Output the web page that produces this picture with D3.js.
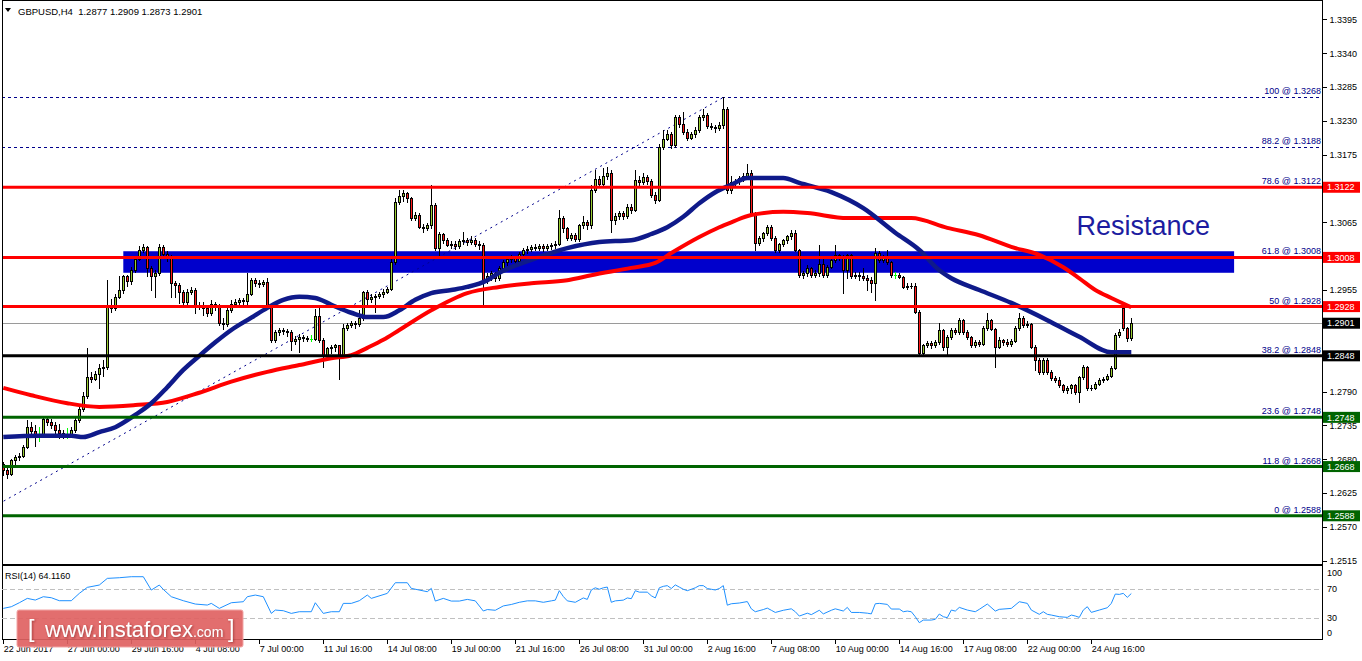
<!DOCTYPE html>
<html>
<head>
<meta charset="utf-8">
<title>GBPUSD H4</title>
<script src="https://cdn.jsdelivr.net/npm/d3@7/dist/d3.min.js"></script>
<style>
  html, body { margin: 0; padding: 0; background: #ffffff; overflow: hidden; }
  svg { display: block; font-family: "Liberation Sans", Arial, sans-serif; }
</style>
</head>
<body>
<svg id="chart" width="1362" height="661"></svg>
<script>
// ================= DATA =================
// Candle prices stored as pips (0.0001) above 1.2500
const PIP_BASE = 1.25;
const opens = [
172,162,156,178,183,185,200,233,226,218, 218,246,240,236,228,222,220,220,228,244,
262,283,314,311,318,328,330,428,425,444, 455,477,469,487,506,520,525,490,478,483,
525,514,508,466,463,452,436,452,455,431, 428,426,418,433,430,401,399,422,433,436,
439,437,449,471,466,465,468,428,374,387, 390,388,386,372,376,379,377,376,376,412,
374,347,360,363,365,350,393,398,401,399, 409,452,441,443,445,448,452,457,500,598,
608,612,604,572,577,558,556,560,593,523, 546,536,528,530,527,535,536,533,537,530,
528,472,478,482,475,490,500,505,508,502, 513,520,522,525,524,527,523,526,528,530,
572,555,540,545,538,560,565,560,618,635, 628,640,645,569,575,580,576,590,585,634,
630,638,632,610,602,688,701,708,690,736, 725,712,702,708,715,737,739,722,720,718,
723,750,618,630,632,637,640,645,580,532, 539,547,558,539,520,530,536,542,548,520,
480,482,490,479,482,498,479,493,504,512, 509,487,512,477,480,477,475,472,466,515,
504,509,500,479,479,476,460,462,461,420, 352,366,369,365,371,390,363,379,390,387,
406,387,379,366,370,368,393,406,392,363, 374,371,368,372,393,409,398,400,363,341,
322,341,322,312,309,300,292,296,300,290, 314,330,295,296,303,309,311,316,328,382,
426,393,377];
const highs = [
176,166,181,186,190,203,244,240,236,232, 250,250,246,240,238,228,230,232,248,266,
290,360,322,324,334,341,471,440,448,477, 480,480,492,510,526,530,527,494,488,530,
528,518,512,470,466,455,456,460,458,436, 436,430,438,436,432,410,426,438,440,442,
442,482,475,474,472,472,474,430,390,394, 394,392,390,380,384,382,380,382,424,425,
377,362,366,368,366,400,402,405,404,422, 454,455,448,448,452,456,460,505,605,618,
618,614,606,582,580,562,564,626,596,550, 548,540,534,534,538,550,540,542,540,534,
532,482,486,484,494,503,508,512,510,516, 524,526,528,530,530,530,530,532,534,585,
575,558,548,548,563,575,568,625,650,640, 654,655,650,580,584,584,594,594,650,640,
645,642,635,614,692,715,715,712,740,740, 745,716,712,720,740,750,742,726,724,728,
769,752,640,636,640,645,660,650,582,542, 550,560,560,542,532,538,544,553,552,522,
486,495,492,488,528,506,496,506,528,514, 512,514,514,484,484,490,480,476,523,518,
512,520,502,484,482,478,466,466,466,422, 368,372,372,374,401,392,382,394,393,409,
408,390,381,373,373,396,417,408,394,378, 376,376,375,396,417,412,404,402,366,344,
344,344,325,316,314,303,299,302,303,316, 333,332,300,306,312,314,319,332,385,392,
431,395,409];
const lows = [
155,150,154,168,178,183,198,222,202,210, 216,236,230,220,215,214,214,218,224,240,
258,280,305,308,296,316,326,420,423,442, 450,462,465,485,504,516,478,455,444,480,
510,502,444,444,434,430,432,448,417,424, 414,412,415,422,398,392,396,420,430,428,
432,430,447,462,460,462,425,370,370,382, 384,380,357,368,355,372,372,372,374,370,
330,344,352,356,311,348,390,395,394,396, 406,432,436,420,442,444,450,455,498,594,
600,598,568,568,555,550,552,556,520,512, 532,526,524,522,524,530,528,530,526,522,
431,466,472,470,472,486,496,500,498,500, 510,515,518,520,520,518,520,522,524,528,
550,536,536,534,535,556,554,555,615,622, 625,636,550,562,570,570,572,580,583,625,
628,628,606,596,600,684,698,686,688,720, 708,698,700,704,712,732,718,716,712,715,
718,612,612,624,628,632,636,578,520,528, 535,544,536,516,516,526,532,538,518,476,
474,478,476,476,478,476,476,490,500,504, 450,474,474,474,472,472,455,452,439,500,
500,498,476,474,474,458,456,458,418,348, 349,362,360,362,368,357,349,376,384,384,
384,376,362,362,364,366,390,390,330,360, 366,364,364,370,390,395,395,360,325,318,
318,318,308,305,298,289,288,288,286,273, 310,293,292,294,300,306,308,314,326,378,
390,372,373];
const closes = [
162,156,178,183,185,200,233,226,218,218, 246,240,236,228,222,220,220,228,244,262,
283,314,311,318,328,330,428,425,444,455, 477,469,487,506,520,525,490,478,483,525,
514,508,466,463,452,436,452,455,431,428, 426,418,433,430,401,399,422,433,436,439,
437,449,471,466,465,468,428,374,387,390, 388,386,372,376,379,377,376,376,412,374,
347,360,363,365,350,393,398,401,399,409, 452,441,443,445,448,452,457,500,598,608,
612,604,572,577,558,556,560,593,523,546, 536,528,530,527,535,536,533,537,530,528,
472,478,482,475,490,500,505,508,502,513, 520,522,525,524,527,523,526,528,530,572,
555,540,545,538,560,565,560,618,635,628, 640,645,569,575,580,576,590,585,634,630,
638,632,610,602,688,701,708,690,736,725, 712,702,708,715,737,739,722,720,718,723,
750,618,630,632,637,640,645,580,532,539, 547,558,539,520,530,536,542,548,520,480,
482,490,479,482,498,479,493,504,512,509, 487,512,477,480,477,475,472,466,515,504,
509,500,479,479,476,460,462,461,420,352, 366,369,365,371,390,363,379,390,387,406,
387,379,366,370,368,393,406,392,363,374, 371,368,372,393,409,398,400,363,341,322,
341,322,312,309,300,292,296,300,290,314, 330,295,296,303,309,311,316,328,382,387,
393,377,401];

const symbolName = "GBPUSD,H4";
const xTickBars = [0,16,32,48,64,80,96,112,128,144,160,176,192,208,224,240,256,272];
const xTickLabels = ["22 Jun 2017","27 Jun 00:00","29 Jun 16:00","4 Jul 08:00","7 Jul 00:00",
  "11 Jul 16:00","14 Jul 08:00","19 Jul 00:00","21 Jul 16:00","26 Jul 08:00","31 Jul 00:00",
  "2 Aug 16:00","7 Aug 08:00","10 Aug 00:00","14 Aug 16:00","17 Aug 08:00","22 Aug 00:00","24 Aug 16:00"];
const priceTicks = [1.2515,1.2570,1.2625,1.2680,1.2735,1.2790,1.2845,1.2900,1.2955,
  1.3010,1.3065,1.3120,1.3175,1.3230,1.3285,1.3340,1.3395];

const fibPercents = ["0","11.8","23.6","38.2","50","61.8","78.6","88.2","100"];
const fibPrices   = [1.2588,1.2668,1.2748,1.2848,1.2928,1.3008,1.3122,1.3188,1.3268];
const fibKinds    = ["support","support","support","pivot","resistance","resistance","resistance","fib","fib"];

const markedPrices = [1.3122,1.3008,1.2928,1.2901,1.2848,1.2748,1.2668,1.2588];
const markedKinds  = ["resistance","resistance","resistance","pivot","pivot","support","support","support"];
const currentPrice = 1.2901;

const zoneBars   = [30, 307.7];
const zonePrices = [1.2983, 1.3018];
const zoneLabel  = "Resistance";

const trendBars   = [-6.45, 180];
const trendPrices = [1.2588, 1.3268];

// moving averages: [bar, pips above 1.2500]
const maFast = [[0,216],[9,218],[17,218],[20,216],[24,224],[28,232],[33,252],[37,271],[41,297],[45,325],
  [49,348],[53,370],[57,390],[62,410],[66,426],[70,439],[74,444],[78,442],[82,431],[87,418],
  [91,411],[95,411],[99,422],[103,439],[107,450],[112,455],[116,460],[121,471],[124,483],[132,504],
  [141,523],[149,533],[157,536],[162,546],[166,557],[170,574],[174,596],[178,614],[182,626],[186,637],
  [191,637],[195,637],[199,629],[207,614],[215,588],[223,548],[229,520],[234,487],[237,474],[244,455],
  [252,434],[261,406],[269,379],[277,354],[282,354]];
const maSlow = [[0,296],[7,284],[16,271],[24,265],[33,268],[41,273],[49,288],[57,306],[66,322],[74,333],
  [82,344],[87,349],[91,361],[95,374],[99,390],[107,422],[116,450],[124,460],[132,466],[141,471],
  [147,479],[157,491],[163,499],[167,515],[174,541],[179,557],[182,565],[187,577],[195,582],[201,580],
  [211,572],[227,572],[236,556],[244,544],[252,525],[259,512],[265,492],[269,474],[273,455],[277,442],
  [282,427]];

// RSI(14): [bar, value]
const rsiPoints = [[0,43.6],[2,45.9],[4,51.4],[6,57.4],[8,55.1],[10,59.7],[12,58.3],[14,54.2],[17,54.2],[19,64.3],
  [21,72.6],[24,75.8],[26,85.0],[29,85.9],[32,87.3],[35,87.3],[37,68.9],[39,75.8],[40,69.8],[42,59.7],
  [45,54.2],[48,49.6],[51,48.2],[52,50.5],[54,43.6],[57,51.4],[60,52.8],[61,59.7],[63,62.0],[65,59.7],
  [67,36.7],[68,41.3],[70,40.4],[72,36.7],[74,39.0],[77,39.0],[78,51.4],[80,36.7],[82,39.0],[84,39.0],
  [85,50.5],[87,50.5],[89,54.2],[91,62.0],[92,57.4],[96,64.3],[98,79.0],[101,79.0],[102,71.2],[106,66.6],
  [107,71.2],[108,53.7],[110,57.4],[112,53.7],[114,53.7],[116,56],[118,54],[120,40],[121,42],[123,41],
  [125,47],[127,49],[129,52],[131,54],[133,54],[135,52],[137,54],[138,55],[139,68],[140,60],
  [141,54],[143,52],[145,58],[146,56],[147,69],[148,72],[149,70],[150,72],[151,73],[152,52],
  [153,54],[155,55],[156,58],[157,57],[158,68],[159,66],[161,66],[162,61],[163,58],[164,72],
  [165,74],[166,75],[167,71],[168,76],[169,73],[170,70],[171,68],[172,70],[173,72],[174,75],
  [175,75],[176,71],[177,70],[178,69],[179,71],[180,75],[181,48],[182,50],[184,51],[186,53],
  [187,43],[188,39],[190,42],[191,44],[192,41],[193,38],[195,41],[197,43],[198,39],[199,33],
  [201,37],[202,35],[204,41],[205,36],[207,41],[208,43],[210,40],[211,45],[212,38],[214,38],
  [216,37],[217,36],[218,50],[219,50.5],[221,49.1],[222,42.7],[224,42.7],[225,39.0],[226,39.9],[227,39.0],
  [228,32.1],[229,23.9],[230,27.5],[232,27.5],[233,28.5],[234,35.8],[235,32.1],[236,30.8],[237,41.3],[238,39.9],
  [239,45.0],[241,41.3],[243,39.0],[244,42.3],[246,49.6],[248,39.9],[249,42.3],[252,43.6],[254,52.8],[256,50.5],
  [257,41.3],[259,35.4],[260,39.0],[261,35.4],[262,34.4],[264,32.1],[266,31.2],[267,34.4],[268,33.1],[269,31.2],
  [270,41.3],[271,45.9],[272,38.1],[274,41.3],[276,44.5],[277,50.5],[278,63.4],[279,62.9],[280,64.3],[281,58.8],
  [282,64.116]];
const rsiLevels = [70, 30];
const rsiTicks  = [100, 70, 30, 0];
const rsiLabel  = "RSI(14) 64.1160";
const watermark = ["[", "www.instaforex", ".com", "]"];

// ================= DRAWING =================
const toPrice = p => PIP_BASE + p / 10000;
const bars = closes.map((c, i) => ({
  i, o: toPrice(opens[i]), h: toPrice(highs[i]), l: toPrice(lows[i]), c: toPrice(c)
}));

const COLORS = {
  resistance: "#ff0000", support: "#006400", pivot: "#000000", fib: "#00008b",
  bull: "#9acd32", bear: "#ff1a1a", doji: "#00ff00", maFast: "#0f1a8a", maSlow: "#ff0000",
  zone: "#0000cc", rsi: "#1e90ff"
};

const L = 2, R = 1322, MAIN_T = 0, MAIN_B = 564, RSI_T = 566, RSI_B = 640;

const x  = d3.scaleLinear().domain([0, 16]).range([3.3, 67.3]);
const y  = d3.scaleLinear().domain([1.2515, 1.3395]).range([560.7, 19.3]);
const yr = d3.scaleLinear().domain([0, 100]).range([640, 567.5]);

const svg = d3.select("#chart");
svg.append("rect").attr("width", 1362).attr("height", 661).attr("fill", "#fff");

const defs = svg.append("defs");
defs.append("clipPath").attr("id", "clipMain").append("rect")
  .attr("x", L).attr("y", MAIN_T).attr("width", R - L).attr("height", MAIN_B - MAIN_T);
defs.append("clipPath").attr("id", "clipRsi").append("rect")
  .attr("x", L).attr("y", RSI_T).attr("width", R - L).attr("height", RSI_B - RSI_T);
const shadow = defs.append("filter").attr("id", "wmShadow").attr("x", "-10%").attr("y", "-20%").attr("width", "130%").attr("height", "160%");
shadow.append("feDropShadow").attr("dx", 1).attr("dy", 1).attr("stdDeviation", 1).attr("flood-color", "#7a1f1f").attr("flood-opacity", 0.6);

const main = svg.append("g").attr("clip-path", "url(#clipMain)");

// resistance zone (background object)
main.append("rect")
  .attr("x", x(zoneBars[0])).attr("width", x(zoneBars[1]) - x(zoneBars[0]))
  .attr("y", y(zonePrices[1])).attr("height", y(zonePrices[0]) - y(zonePrices[1]))
  .attr("fill", COLORS.zone);

// current price line
main.append("line")
  .attr("x1", L).attr("x2", R)
  .attr("y1", Math.round(y(currentPrice)) + 0.5).attr("y2", Math.round(y(currentPrice)) + 0.5)
  .attr("stroke", "#9a9a9a").attr("stroke-width", 1);

// fibonacci dotted levels
fibPrices.forEach((p, k) => {
  if (fibKinds[k] !== "fib") return;
  main.append("line")
    .attr("x1", L).attr("x2", R)
    .attr("y1", Math.round(y(p)) + 0.5).attr("y2", Math.round(y(p)) + 0.5)
    .attr("stroke", COLORS.fib).attr("stroke-width", 1).attr("stroke-dasharray", "3,3");
});

// fibonacci trend line
main.append("line")
  .attr("x1", x(trendBars[0])).attr("y1", y(trendPrices[0]))
  .attr("x2", x(trendBars[1])).attr("y2", y(trendPrices[1]))
  .attr("stroke", COLORS.fib).attr("stroke-width", 1).attr("stroke-dasharray", "2,4");

// candles
const cg = main.append("g").attr("shape-rendering", "crispEdges");
bars.forEach(b => {
  const col = Math.floor(x(b.i));
  const isDoji = opens[b.i] === closes[b.i];
  const yH = Math.round(y(b.h)), yL = Math.round(y(b.l));
  cg.append("rect")
    .attr("x", col).attr("y", yH).attr("width", 1).attr("height", Math.max(1, yL - yH + 1))
    .attr("fill", isDoji ? COLORS.doji : "#000");
  const top = Math.round(y(Math.max(b.o, b.c)));
  const bot = Math.round(y(Math.min(b.o, b.c)));
  if (isDoji) {
    cg.append("rect").attr("x", col - 1).attr("y", top).attr("width", 3).attr("height", 1)
      .attr("fill", COLORS.doji);
    return;
  }
  const h = Math.max(1, bot - top + 1);
  cg.append("rect")
    .attr("x", col - 1).attr("y", top).attr("width", 3).attr("height", h)
    .attr("fill", "#000");
  if (h > 2) {
    cg.append("rect")
      .attr("x", col).attr("y", top + 1).attr("width", 1).attr("height", h - 2)
      .attr("fill", b.c > b.o ? COLORS.bull : COLORS.bear);
  }
});

// moving averages
const maLine = d3.line()
  .x(d => x(d[0])).y(d => y(toPrice(d[1])))
  .curve(d3.curveMonotoneX);
main.append("path").datum(maSlow).attr("d", maLine)
  .attr("fill", "none").attr("stroke", COLORS.maSlow).attr("stroke-width", 4).attr("stroke-linejoin", "round");
main.append("path").datum(maFast).attr("d", maLine)
  .attr("fill", "none").attr("stroke", COLORS.maFast).attr("stroke-width", 4.5).attr("stroke-linejoin", "round");

// solid level lines drawn on the fib levels
fibPrices.forEach((p, k) => {
  if (fibKinds[k] === "fib") return;
  main.append("line")
    .attr("x1", L).attr("x2", R)
    .attr("y1", y(p)).attr("y2", y(p))
    .attr("stroke", COLORS[fibKinds[k]]).attr("stroke-width", 3);
});

// fib labels
fibPrices.forEach((p, k) => {
  main.append("text")
    .attr("x", R - 1).attr("y", y(p) - 3)
    .attr("text-anchor", "end")
    .attr("font-size", 9).attr("fill", COLORS.fib)
    .text(`${fibPercents[k]} @ ${p.toFixed(4)}`);
});

// Resistance label
main.append("text")
  .attr("x", x(268.3)).attr("y", y(1.3045))
  .attr("font-size", 27).attr("fill", "#1c1ca0")
  .text(zoneLabel);

// title
svg.append("path")
  .attr("d", "M5,8 L11,8 L8,12 Z").attr("fill", "#000");
svg.append("text")
  .attr("x", 18).attr("y", 15)
  .attr("font-size", 9.5).attr("fill", "#000")
  .attr("xml:space", "preserve")
  .text(`${symbolName}  ${[opens, highs, lows, closes].map(a => toPrice(a[a.length - 1]).toFixed(4)).join(" ")}`);

// frames
const frame = svg.append("g").attr("fill", "none").attr("stroke", "#000").attr("stroke-width", 1).attr("shape-rendering", "crispEdges");
frame.append("rect").attr("x", L + 0.5).attr("y", 0.5).attr("width", R - L).attr("height", MAIN_B - 0.5);
frame.append("rect").attr("x", L + 0.5).attr("y", RSI_T - 0.5).attr("width", R - L).attr("height", RSI_B - RSI_T);

// right price axis
const yAxis = d3.axisRight(y).tickValues(priceTicks).tickFormat(d3.format(".4f")).tickSize(4).tickPadding(3);
const ya = svg.append("g").attr("transform", `translate(${R + 0.5},0)`).call(yAxis);
ya.select(".domain").remove();
ya.selectAll("text").attr("font-size", 9).attr("font-family", "Liberation Sans, Arial, sans-serif").attr("fill", "#000");
ya.selectAll("line").attr("stroke", "#000").attr("shape-rendering", "crispEdges");

// price marker boxes
markedPrices.forEach((p, k) => {
  const bg = markedKinds[k] === "resistance" ? COLORS.resistance :
             markedKinds[k] === "support" ? COLORS.support : "#000";
  const g = svg.append("g");
  g.append("rect").attr("x", R + 1).attr("y", y(p) - 5.5).attr("width", 37).attr("height", 11).attr("fill", bg);
  g.append("text").attr("x", R + 5).attr("y", y(p)).attr("dy", "0.35em")
    .attr("font-size", 9).attr("fill", "#fff").text(p.toFixed(4));
});

// RSI panel
const rsiG = svg.append("g").attr("clip-path", "url(#clipRsi)");
rsiLevels.forEach(v => {
  rsiG.append("line").attr("x1", L).attr("x2", R)
    .attr("y1", Math.round(yr(v)) + 0.5).attr("y2", Math.round(yr(v)) + 0.5)
    .attr("stroke", "#c0c0c0").attr("stroke-dasharray", "5,3");
});
rsiG.append("path").datum(rsiPoints)
  .attr("d", d3.line().x(d => x(d[0])).y(d => yr(d[1])))
  .attr("fill", "none").attr("stroke", COLORS.rsi).attr("stroke-width", 1);
svg.append("text").attr("x", 5).attr("y", 579).attr("font-size", 9).attr("fill", "#000").text(rsiLabel);
rsiTicks.forEach(v => {
  svg.append("text").attr("x", R + 5).attr("y", Math.min(633, Math.max(573, yr(v)))).attr("dy", "0.35em")
    .attr("font-size", 9).attr("fill", "#000").text(v);
});

// time axis
const xAxis = d3.axisBottom(x).tickValues(xTickBars).tickFormat((d, k) => xTickLabels[k]).tickSize(4).tickPadding(2);
const xa = svg.append("g").attr("transform", `translate(0,${RSI_B})`).call(xAxis);
xa.select(".domain").remove();
xa.selectAll("text").attr("text-anchor", "start").attr("font-size", 9)
  .attr("font-family", "Liberation Sans, Arial, sans-serif").attr("fill", "#000");
xa.selectAll("line").attr("stroke", "#000").attr("shape-rendering", "crispEdges");

// watermark
const wm = svg.append("g");
wm.append("rect").attr("x", 17).attr("y", 610).attr("width", 226).attr("height", 37).attr("rx", 2)
  .attr("fill", "#e06262").attr("fill-opacity", 0.92).attr("stroke", "#f2a5a5").attr("stroke-width", 1);
const wmText = wm.append("text").attr("x", 28).attr("y", 637).attr("fill", "#fff")
  .attr("filter", "url(#wmShadow)").attr("xml:space", "preserve");
wmText.append("tspan").attr("font-size", 23).text(watermark[0] + " ");
wmText.append("tspan").attr("x", 45).attr("font-size", 22).text(watermark[1]);
wmText.append("tspan").attr("font-size", 14).text(watermark[2]);
wmText.append("tspan").attr("x", 228).attr("font-size", 23).text(watermark[3]);
</script>
</body>
</html>
